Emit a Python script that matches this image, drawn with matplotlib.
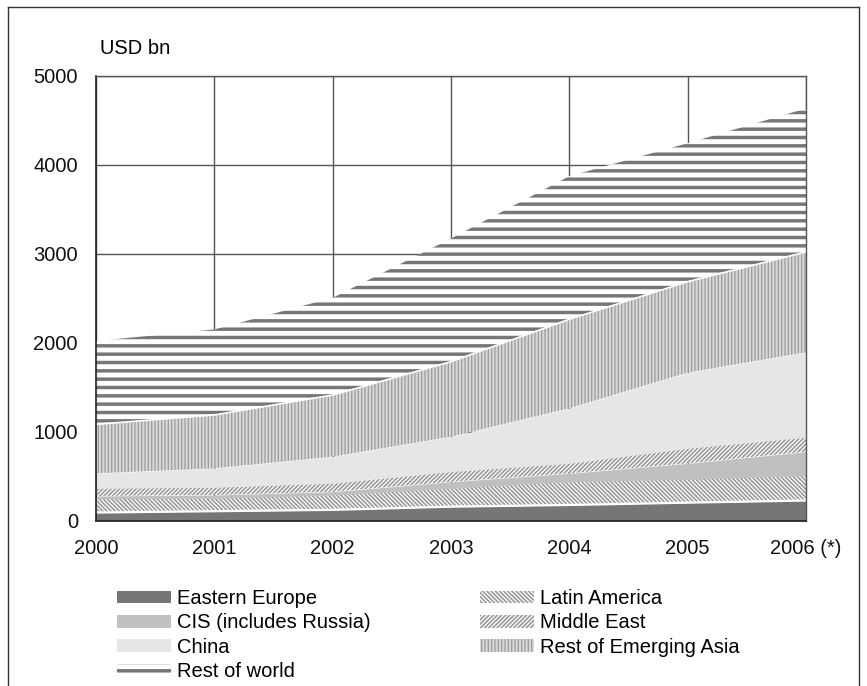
import matplotlib
matplotlib.use("Agg")
import matplotlib.pyplot as plt
from matplotlib.lines import Line2D

plt.rcParams["font.family"] = ["Liberation Sans", "DejaVu Sans"]

# Foreign exchange reserves, USD bn
years = [2000, 2001, 2002, 2003, 2004, 2005, 2006]
year_labels = ["2000", "2001", "2002", "2003", "2004", "2005", "2006 (*)"]
eastern_europe = [95, 110, 125, 161, 180, 206, 230]
latin_america = [155, 145, 167, 206, 261, 262, 279]
cis = [31, 37, 37, 74, 94, 179, 269]
middle_east = [86, 86, 94, 113, 112, 169, 161]
china = [168, 213, 299, 392, 618, 849, 954]
rest_emerging_asia = [550, 599, 692, 842, 999, 1021, 1127]
rest_of_world = [935, 960, 1091, 1382, 1606, 1554, 1610]

series_names = ["Eastern Europe", "Latin America", "CIS (includes Russia)",
                "Middle East", "China", "Rest of Emerging Asia", "Rest of world"]
series_values = [eastern_europe, latin_america, cis, middle_east, china,
                 rest_emerging_asia, rest_of_world]

# fill, hatch pattern, hatch colour, hatch width (pt)
styles = [
    ("#767676", None, "#767676", 1.0),
    ("#ffffff", "\\" * 8, "#9a9a9a", 1.2),
    ("#c0c0c0", None, "#c0c0c0", 1.0),
    ("#ffffff", "/" * 8, "#9a9a9a", 1.2),
    ("#e6e6e6", None, "#e6e6e6", 1.0),
    ("#d8d8d8", "|||||", "#9c9c9c", 0.9),
    ("#ffffff", "--", "#777777", 2.5),
]


def use_hatch_width(artist, width):
    """Give the artist its own hatch line width."""
    if hasattr(artist, "set_hatch_linewidth"):
        artist.set_hatch_linewidth(width)
    elif hasattr(artist, "_hatch_linewidth"):
        artist._hatch_linewidth = width
    base_draw = artist.draw

    def draw(renderer, *args, **kwargs):
        with plt.rc_context({"hatch.linewidth": width}):
            return base_draw(renderer, *args, **kwargs)

    artist.draw = draw


FS = 14.5
fig = plt.figure(figsize=(8.67, 6.86), dpi=100)
ax = fig.add_axes([96 / 867, 1 - 521 / 686, 710 / 867, 445.5 / 686])

bottom = [0] * len(years)
handles = []
tops = []
for name, vals, (face, hatch, hcol, hlw) in zip(series_names, series_values, styles):
    top = [b + v for b, v in zip(bottom, vals)]
    with plt.rc_context({"hatch.linewidth": hlw}):
        poly = ax.fill_between(years, bottom, top, facecolor=face, hatch=hatch,
                               edgecolor=hcol, linewidth=0, zorder=2, label=name)
    use_hatch_width(poly, hlw)
    handles.append(poly)
    tops.append(top)
    bottom = top

# thin white seams between some bands
ax.plot(years, tops[0], color="white", lw=1.6, zorder=3)
ax.plot(years, tops[5], color="white", lw=1.2, zorder=3)

ax.set_xlim(2000, 2006)
ax.set_ylim(0, 5000)
ax.set_xticks(years)
ax.set_xticklabels(year_labels)
ax.set_yticks([0, 1000, 2000, 3000, 4000, 5000])
ax.tick_params(axis="both", length=0, labelsize=FS, colors="#111111")
ax.tick_params(axis="y", pad=13)
ax.tick_params(axis="x", pad=13)
ax.grid(True, color="#555555", lw=1.0)
ax.set_axisbelow(True)
for side in ["top", "right"]:
    ax.spines[side].set_color("#555555")
    ax.spines[side].set_linewidth(1.0)
for side in ["left", "bottom"]:
    ax.spines[side].set_color("#222222")
    ax.spines[side].set_linewidth(1.2)
for s in ax.spines.values():
    s.set_zorder(4)

fig.text(100 / 867, 1 - 48 / 686, "USD bn", fontsize=FS, ha="left", va="center")

order = [0, 2, 4, 6, 1, 3, 5]
leg = fig.legend([handles[i] for i in order], [series_names[i] for i in order],
                 loc="upper left", bbox_to_anchor=(117 / 867, 1 - 589 / 686),
                 ncols=2, frameon=False, fontsize=FS, handlelength=2.7,
                 handleheight=0.6, handletextpad=0.3, columnspacing=5.4,
                 labelspacing=0.27, borderpad=0, borderaxespad=0)
for i, h in zip(order, leg.legend_handles):
    use_hatch_width(h, styles[i][3])

# outer frame
for xs, ys in [([8 / 867, 8 / 867], [0, 1 - 7 / 686]),
               ([8 / 867, 859 / 867], [1 - 7 / 686, 1 - 7 / 686]),
               ([859 / 867, 859 / 867], [0, 1 - 7 / 686])]:
    fig.add_artist(Line2D(xs, ys, color="#333333", lw=1.0))

fig.savefig("out.png", dpi=100)
